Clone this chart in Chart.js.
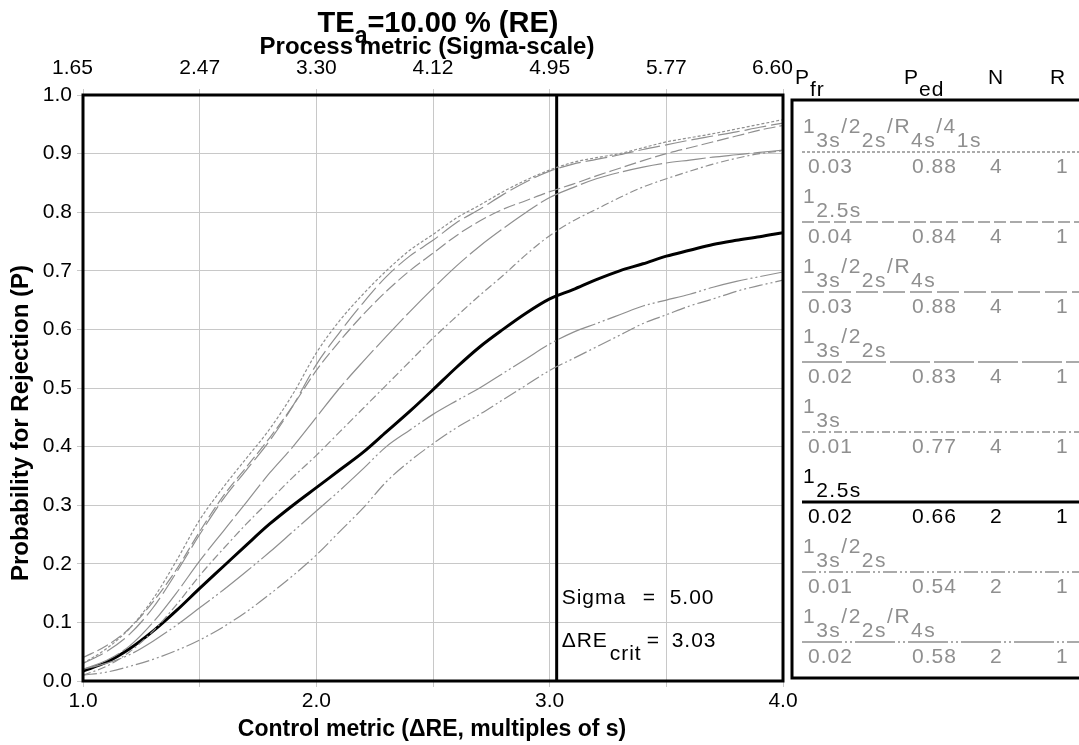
<!DOCTYPE html>
<html>
<head>
<meta charset="utf-8">
<script src="https://cdn.jsdelivr.net/npm/chart.js@4.4.0/dist/chart.umd.min.js"></script>
<style>
  html, body { margin: 0; padding: 0; background: #fff; }
  canvas { display: block; }
</style>
</head>
<body>
<canvas id="chart" width="1079" height="745"></canvas>
<script>
// x values: control metric (delta RE, multiples of s)
const deltaRE = [1.0, 1.1, 1.2, 1.3, 1.4, 1.5, 1.6, 1.7, 1.8, 1.9, 2.0,
                 2.1, 2.2, 2.3, 2.4, 2.5, 2.6, 2.7, 2.8, 2.9, 3.0,
                 3.1, 3.2, 3.3, 3.4, 3.5, 3.6, 3.7, 3.8, 3.9, 4.0];

// probability for rejection, one array per QC rule
const p13s22sR4s41sN4 = [0.03, 0.055, 0.09, 0.14, 0.205, 0.275, 0.33, 0.38, 0.43, 0.49, 0.56,
                         0.615, 0.66, 0.70, 0.735, 0.762, 0.79, 0.812, 0.835, 0.855, 0.872,
                         0.885, 0.893, 0.90, 0.91, 0.92, 0.927, 0.934, 0.942, 0.95, 0.958];
const p125sN4 = [0.04, 0.06, 0.09, 0.135, 0.19, 0.255, 0.315, 0.365, 0.415, 0.47, 0.53,
                 0.58, 0.625, 0.665, 0.70, 0.73, 0.76, 0.785, 0.805, 0.82, 0.835,
                 0.848, 0.862, 0.875, 0.888, 0.90, 0.91, 0.92, 0.93, 0.94, 0.948];
const p13s22sR4sN4 = [0.03, 0.05, 0.08, 0.125, 0.185, 0.25, 0.31, 0.36, 0.41, 0.47, 0.54,
                      0.595, 0.645, 0.69, 0.725, 0.752, 0.782, 0.805, 0.83, 0.852, 0.87,
                      0.882, 0.89, 0.898, 0.907, 0.915, 0.923, 0.93, 0.937, 0.945, 0.952];
const p13s22sN4 = [0.02, 0.035, 0.06, 0.10, 0.15, 0.205, 0.255, 0.305, 0.355, 0.40, 0.45,
                   0.50, 0.545, 0.588, 0.63, 0.67, 0.708, 0.742, 0.772, 0.80, 0.825,
                   0.842, 0.857, 0.868, 0.877, 0.884, 0.889, 0.894, 0.898, 0.902, 0.906];
const p13sN4 = [0.01, 0.025, 0.05, 0.085, 0.13, 0.18, 0.225, 0.268, 0.308, 0.348, 0.385,
                0.425, 0.465, 0.505, 0.545, 0.585, 0.622, 0.658, 0.692, 0.728, 0.76,
                0.785, 0.805, 0.825, 0.843, 0.857, 0.87, 0.882, 0.892, 0.90, 0.905];
const p125sN2 = [0.017, 0.032, 0.055, 0.085, 0.12, 0.158, 0.195, 0.232, 0.268, 0.30, 0.33,
                 0.36, 0.39, 0.425, 0.46, 0.497, 0.535, 0.57, 0.60, 0.628, 0.652,
                 0.668, 0.685, 0.70, 0.712, 0.725, 0.735, 0.745, 0.752, 0.758, 0.765];
const p13s22sN2 = [0.01, 0.015, 0.025, 0.037, 0.052, 0.07, 0.092, 0.118, 0.148, 0.18, 0.215,
                   0.255, 0.295, 0.34, 0.375, 0.405, 0.432, 0.455, 0.48, 0.505, 0.53,
                   0.55, 0.57, 0.59, 0.61, 0.625, 0.64, 0.652, 0.665, 0.675, 0.684];
const p13s22sR4sN2 = [0.02, 0.03, 0.045, 0.068, 0.095, 0.125, 0.155, 0.187, 0.22, 0.255, 0.29,
                      0.325, 0.362, 0.40, 0.428, 0.455, 0.478, 0.50, 0.525, 0.55, 0.575,
                      0.595, 0.61, 0.625, 0.64, 0.65, 0.66, 0.672, 0.682, 0.69, 0.698];

// legend table
const ruleLabels = [
  [['1', '3s'], ['/2', '2s'], ['/R', '4s'], ['/4', '1s']],
  [['1', '2.5s']],
  [['1', '3s'], ['/2', '2s'], ['/R', '4s']],
  [['1', '3s'], ['/2', '2s']],
  [['1', '3s']],
  [['1', '2.5s']],
  [['1', '3s'], ['/2', '2s']],
  [['1', '3s'], ['/2', '2s'], ['/R', '4s']]
];
const pfrValues = ['0.03', '0.04', '0.03', '0.02', '0.01', '0.02', '0.01', '0.02'];
const pedValues = ['0.88', '0.84', '0.88', '0.83', '0.77', '0.66', '0.54', '0.58'];
const nValues = ['4', '4', '4', '4', '4', '2', '2', '2'];
const rValues = ['1', '1', '1', '1', '1', '1', '1', '1'];

// tick labels
const xTickLabels = ['1.0', '', '2.0', '', '3.0', '', '4.0'];
const sigmaTickLabels = ['1.65', '2.47', '3.30', '4.12', '4.95', '5.77', '6.60'];
const yTickLabels = ['0.0', '0.1', '0.2', '0.3', '0.4', '0.5', '0.6', '0.7', '0.8', '0.9', '1.0'];

// critical values
const critDeltaRE = 3.03;
const sigmaText = '5.00';
const critText = '3.03';

const series = [p13s22sR4s41sN4, p125sN4, p13s22sR4sN4, p13s22sN4, p13sN4, p125sN2, p13s22sN2, p13s22sR4sN2];
const dashes = [[3, 2], [12, 4], [22, 5], [40, 4], [8, 3, 2, 3], [], [14, 3, 2, 3, 2, 3], [40, 3, 2, 3, 2, 3]];
const selected = 5;
const GRAY = '#8f8f8f';
const FONT = '"Liberation Sans", Arial, sans-serif';

const datasets = [];
series.forEach((vals, i) => {
  if (i === selected) return;
  datasets.push({
    data: vals.map((v, j) => ({ x: deltaRE[j], y: v })),
    borderColor: GRAY,
    borderWidth: 1.2,
    borderDash: dashes[i],
    pointRadius: 0,
    cubicInterpolationMode: 'monotone'
  });
});
datasets.push({
  data: series[selected].map((v, j) => ({ x: deltaRE[j], y: v })),
  borderColor: '#000',
  borderWidth: 3,
  pointRadius: 0,
  cubicInterpolationMode: 'monotone'
});
datasets.push({
  data: [{ x: critDeltaRE, y: 0 }, { x: critDeltaRE, y: 1 }],
  borderColor: '#000',
  borderWidth: 3,
  pointRadius: 0
});

function drawParts(ctx, parts, x, y, subDy) {
  parts.forEach(p => {
    ctx.fillText(p[0], x, y);
    x += ctx.measureText(p[0]).width;
    if (p[1]) {
      ctx.fillText(p[1], x, y + subDy);
      x += ctx.measureText(p[1]).width;
    }
  });
  return x;
}

const decor = {
  id: 'decor',
  afterDatasetsDraw(chart) {
    const ctx = chart.ctx;
    const a = chart.chartArea;
    ctx.save();
    ctx.strokeStyle = '#000';
    ctx.lineWidth = 3;
    ctx.strokeRect(a.left, a.top, a.right - a.left, a.bottom - a.top);
    ctx.restore();
  },
  afterDraw(chart) {
    const ctx = chart.ctx;
    ctx.save();
    ctx.fillStyle = '#000';
    ctx.textBaseline = 'alphabetic';

    // main title
    ctx.font = 'bold 29px ' + FONT;
    const w1 = ctx.measureText('TE').width;
    const w3 = ctx.measureText('=10.00 % (RE)').width;
    ctx.font = 'bold 23px ' + FONT;
    const w2 = ctx.measureText('a').width;
    const tx = 438 - (w1 + w2 + w3) / 2;
    ctx.font = 'bold 29px ' + FONT;
    ctx.fillText('TE', tx, 32);
    ctx.font = 'bold 23px ' + FONT;
    ctx.fillText('a', tx + w1, 43);
    ctx.font = 'bold 29px ' + FONT;
    ctx.fillText('=10.00 % (RE)', tx + w1 + w2, 32);

    // axis titles
    ctx.font = 'bold 24px ' + FONT;
    ctx.textAlign = 'center';
    ctx.fillText('Process metric (Sigma-scale)', 427, 54);
    ctx.font = 'bold 23px ' + FONT;
    ctx.fillText('Control metric (\u0394RE, multiples of s)', 432, 736);
    ctx.save();
    ctx.translate(28, 423);
    ctx.rotate(-Math.PI / 2);
    ctx.font = 'bold 24px ' + FONT;
    ctx.fillText('Probability for Rejection (P)', 0, 0);
    ctx.restore();
    ctx.textAlign = 'left';

    // sigma / critical annotation
    const cx = chart.scales.x.getPixelForValue(critDeltaRE);
    ctx.font = '21px ' + FONT;
    ctx.letterSpacing = '1px';
    ctx.fillText('Sigma', cx + 5, 604);
    ctx.fillText('=', cx + 86, 604);
    ctx.fillText(sigmaText, cx + 113, 604);
    ctx.fillText('\u0394RE', cx + 5, 647);
    ctx.fillText('crit', cx + 53, 660);
    ctx.fillText('=', cx + 90, 647);
    ctx.fillText(critText, cx + 115, 647);

    // legend panel
    ctx.lineWidth = 3;
    ctx.strokeStyle = '#000';
    ctx.strokeRect(792, 100, 320, 578);
    ctx.font = '21px ' + FONT;
    drawParts(ctx, [['P', 'fr']], 795, 84, 12);
    drawParts(ctx, [['P', 'ed']], 904, 84, 12);
    ctx.fillText('N', 988, 84);
    ctx.fillText('R', 1050, 84);

    ruleLabels.forEach((parts, i) => {
      const ly = 152 + 70 * i;
      const col = i === selected ? '#000' : GRAY;
      ctx.fillStyle = col;
      ctx.letterSpacing = '1.5px';
      drawParts(ctx, parts, 803, ly - 19, 14);
      ctx.letterSpacing = '1px';
      ctx.fillText(pfrValues[i], 808, ly + 21);
      ctx.fillText(pedValues[i], 912, ly + 21);
      ctx.fillText(nValues[i], 990, ly + 21);
      ctx.fillText(rValues[i], 1056, ly + 21);
      ctx.beginPath();
      ctx.strokeStyle = col;
      ctx.lineWidth = i === selected ? 3 : 1.5;
      ctx.setLineDash(dashes[i]);
      ctx.moveTo(802, ly);
      ctx.lineTo(1079, ly);
      ctx.stroke();
      ctx.setLineDash([]);
    });
    ctx.restore();
  }
};

const tickFont = { family: FONT, size: 21 };
const lastTop = sigmaTickLabels.length - 1;

new Chart(document.getElementById('chart'), {
  type: 'line',
  data: { datasets: datasets },
  plugins: [decor],
  options: {
    responsive: false,
    animation: false,
    devicePixelRatio: 1,
    layout: { padding: { left: 0, right: 296, top: 0, bottom: 0 } },
    plugins: { legend: { display: false }, tooltip: { enabled: false } },
    scales: {
      x: {
        type: 'linear', position: 'bottom', min: 1, max: 4,
        ticks: { stepSize: 0.5, autoSkip: false, maxRotation: 0, color: '#000', font: tickFont, padding: 2,
                 callback: (v, i) => xTickLabels[i] },
        grid: { color: '#c8c8c8', lineWidth: 1, tickLength: 6 },
        border: { display: false },
        afterFit: s => { s.height = 64; }
      },
      x2: {
        type: 'linear', position: 'top', min: 1, max: 4,
        ticks: { stepSize: 0.5, autoSkip: false, maxRotation: 0, color: '#000', font: tickFont, padding: 8,
                 // end labels sit a little left of their grid line, as in the original
                 callback: (v, i) => (i === 0 || i === lastTop) ? sigmaTickLabels[i] + '\u2002\u2002' : sigmaTickLabels[i] },
        grid: { drawOnChartArea: false, color: '#c8c8c8', tickLength: 6 },
        border: { display: false },
        afterFit: s => { s.height = 95; }
      },
      y: {
        type: 'linear', min: 0, max: 1,
        ticks: { stepSize: 0.1, autoSkip: false, color: '#000', font: tickFont, padding: 5,
                 callback: (v, i) => yTickLabels[i] },
        grid: { color: '#c8c8c8', lineWidth: 1, tickLength: 6 },
        border: { display: false },
        afterFit: s => { s.width = 83; }
      }
    }
  }
});
</script>
</body>
</html>
